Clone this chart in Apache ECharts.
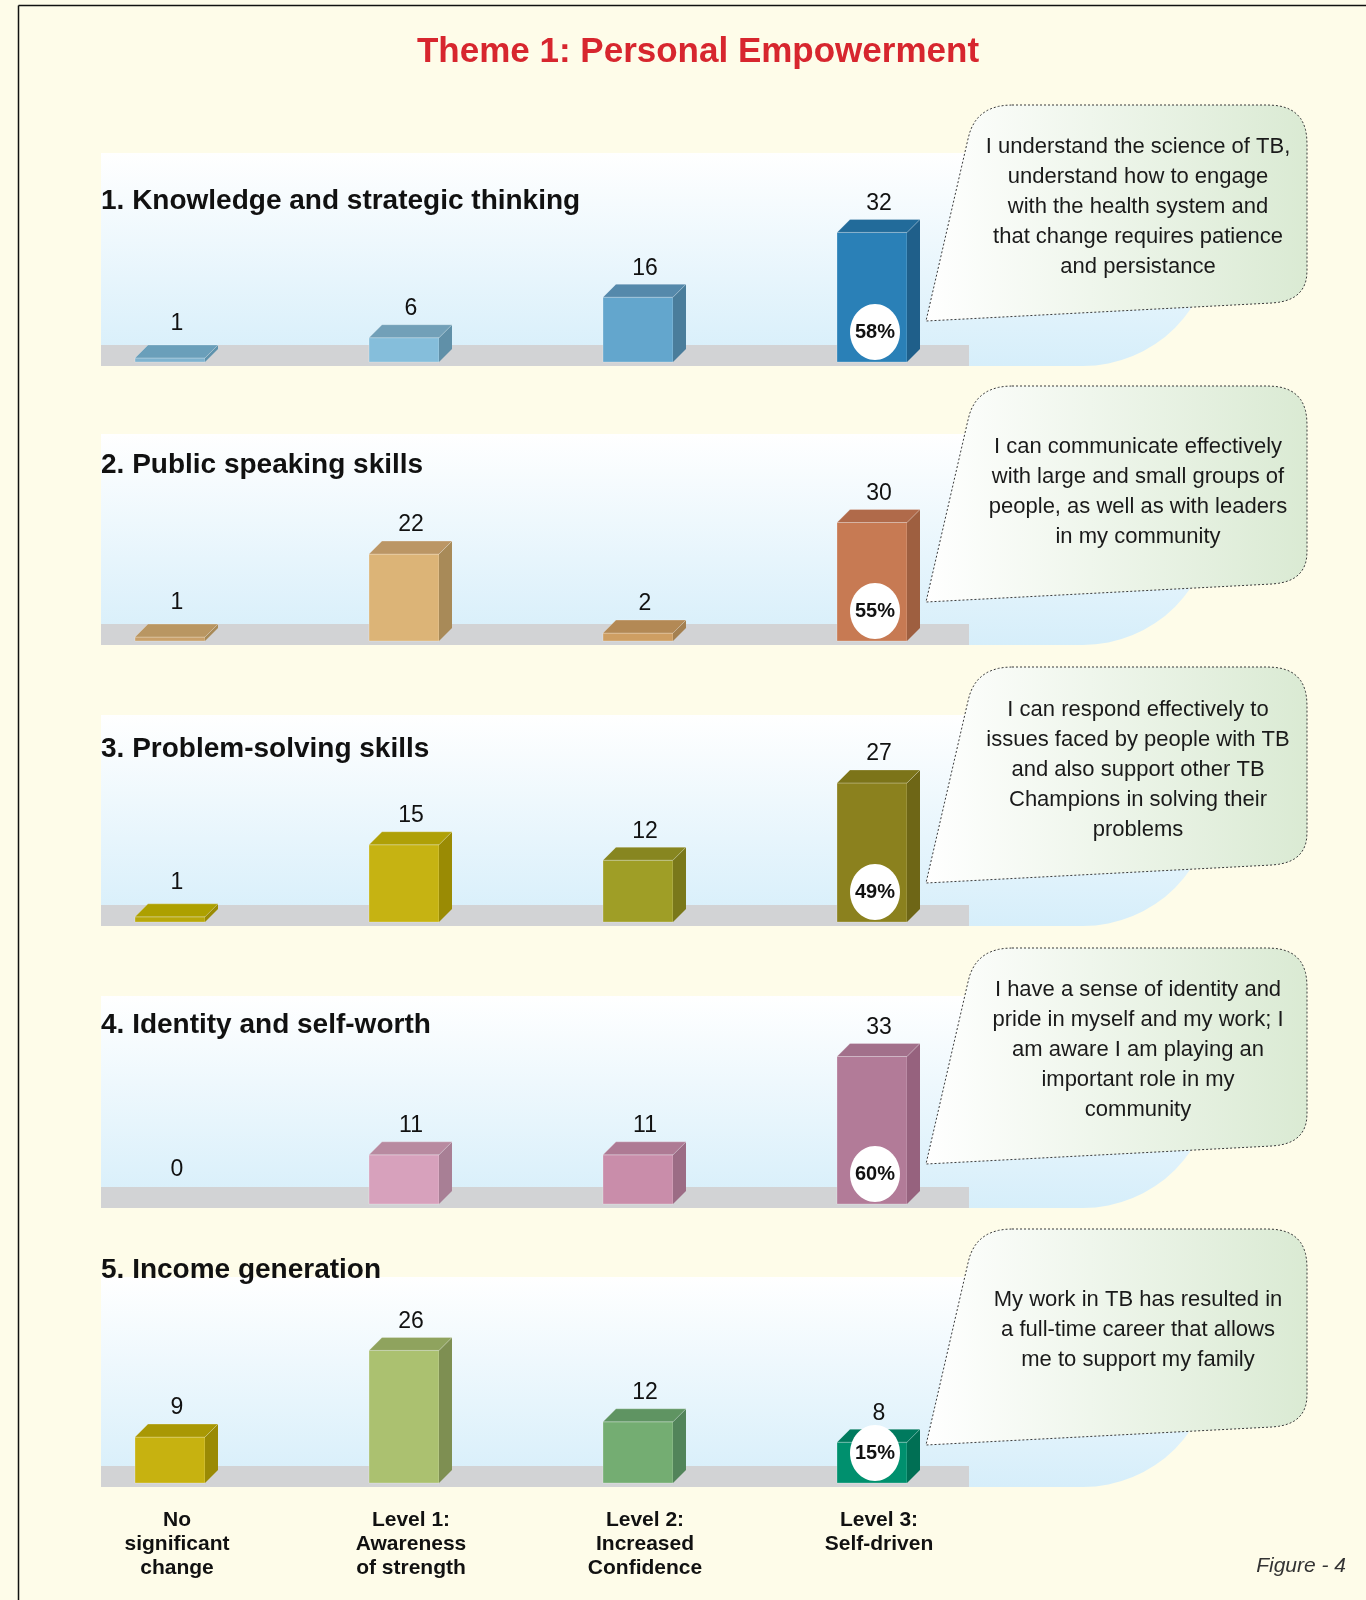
<!DOCTYPE html>
<html>
<head>
<meta charset="utf-8">
<script src="https://cdn.jsdelivr.net/npm/echarts@6/dist/echarts.min.js"></script>
<style>
html,body{margin:0;padding:0;background:#FEFCE9;}
#c{width:1366px;height:1600px;}
</style>
</head>
<body>
<div id="c"></div>
<script>
// ---------------- data ----------------
const chartTitle = 'Theme 1: Personal Empowerment';
const figureLabel = 'Figure - 4';
const categories = [
  'No\nsignificant\nchange',
  'Level 1:\nAwareness\nof strength',
  'Level 2:\nIncreased\nConfidence',
  'Level 3:\nSelf-driven'
];
const panelTitles = [
  '1. Knowledge and strategic thinking',
  '2. Public speaking skills',
  '3. Problem-solving skills',
  '4. Identity and self-worth',
  '5. Income generation'
];
const knowledgeValues      = [1, 6, 16, 32];
const publicSpeakingValues = [1, 22, 2, 30];
const problemSolvingValues = [1, 15, 12, 27];
const identityValues       = [0, 11, 11, 33];
const incomeValues         = [9, 26, 12, 8];
const level3Shares = ['58%', '55%', '49%', '60%', '15%'];
const quotes = [
  'I understand the science of TB,\nunderstand how to engage\nwith the health system and\nthat change requires patience\nand persistance',
  'I can communicate effectively\nwith large and small groups of\npeople, as well as with leaders\nin my community',
  'I can respond effectively to\nissues faced by people with TB\nand also support other TB\nChampions in solving their\nproblems',
  'I have a sense of identity and\npride in myself and my work; I\nam aware I am playing an\nimportant role in my\ncommunity',
  'My work in TB has resulted in\na full-time career that allows\nme to support my family'
];
const panelValues = [knowledgeValues, publicSpeakingValues, problemSolvingValues, identityValues, incomeValues];

// ---------------- styles / layout ----------------
const FONT = '"Liberation Sans", Arial, "Noto Sans", sans-serif';
// [front, side, top]
const barColors = [
  [['#7FB3CF','#5F93AD','#6A9FBA'], ['#85BEDB','#6090A8','#72A0B8'], ['#63A6CD','#4A7D9B','#5589AB'], ['#2A80B7','#1F5F8A','#226B9A']],
  [['#C9A06A','#A88A58','#B99662'], ['#DCB477','#A88A58','#BB9665'], ['#CE9E62','#A48050','#B38955'], ['#C77A53','#9E5F40','#B06A4A']],
  [['#B8A80A','#9A8B04','#ADA000'], ['#C6B312','#9A8B04','#AFA006'], ['#9F9E26','#7A781A','#878620'], ['#8B811E','#6E6616','#7C7419']],
  [['#D7A1BC','#A87F95','#B88AA0'], ['#D7A1BC','#A87F95','#B88AA0'], ['#C98DAA','#9C6C85','#AE7A94'], ['#B27B98','#96627E','#A2708B']],
  [['#C7B210','#9A8A04','#A99804'], ['#ABC170','#7E8F52','#8FA35E'], ['#74AD72','#52845A','#5F9462'], ['#00906E','#006F54','#007A5E']]
];
const panelTop = [153, 434, 715, 996, 1277];
const panelBase = [362, 641, 922, 1204, 1483];
const pxPerUnit = [4.05, 3.95, 5.15, 4.47, 5.1];
const titleMidY = [201, 465, 749, 1025, 1270];
const quoteMidOffset = [54, 58, 55, 54, 53];
const Y_MAX = 40;
const GRID_LEFT = 53, GRID_WIDTH = 936;
const BAR_W = 70, DX = 13, DY = 13;

const grids = [], xAxes = [], yAxes = [], series = [], graphics = [];

function quad(p0, c, p1, n) {
  const pts = [];
  for (let k = 1; k <= n; k++) {
    const t = k / n, u = 1 - t;
    pts.push([u*u*p0[0] + 2*u*t*c[0] + t*t*p1[0], u*u*p0[1] + 2*u*t*c[1] + t*t*p1[1]]);
  }
  return pts;
}
function bubblePoints(T) {
  let pts = [[1012, T-48], [1268, T-48]];
  pts = pts.concat(quad([1268, T-48], [1307, T-48], [1307, T-10], 10));
  pts.push([1307, T+118]);
  pts = pts.concat(quad([1307, T+118], [1307, T+148], [1272, T+150], 10));
  pts.push([926, T+168]);
  pts.push([968, T-14]);
  pts = pts.concat(quad([968, T-14], [975, T-48], [1012, T-48], 10));
  return pts;
}

// page border + title
graphics.push({type:'line', z:1, shape:{x1:18.5, y1:5.5, x2:1366, y2:5.5}, style:{stroke:'#111', lineWidth:1.5}});
graphics.push({type:'line', z:1, shape:{x1:18.5, y1:5.5, x2:18.5, y2:1600}, style:{stroke:'#111', lineWidth:1.5}});
graphics.push({type:'text', z:6, x:698, y:52, style:{text:chartTitle, font:'bold 35px ' + FONT, fill:'#D7262E', align:'center', verticalAlign:'middle', textAlign:'center', textVerticalAlign:'middle'}});
graphics.push({type:'text', z:6, x:1346, y:1566, style:{text:figureLabel, font:'italic 21px ' + FONT, fill:'#333', align:'right', verticalAlign:'middle', textAlign:'right', textVerticalAlign:'middle'}});

panelValues.forEach(function (vals, p) {
  const T = panelTop[p], B = panelBase[p];
  const h = Y_MAX * pxPerUnit[p];
  grids.push({left: GRID_LEFT, width: GRID_WIDTH, top: B - h, height: h, containLabel: false});
  xAxes.push({
    type:'category', gridIndex:p, data:categories,
    axisLine:{show:false}, axisTick:{show:false}, splitLine:{show:false},
    axisLabel: p === 4 ? {show:true, interval:0, margin:25, padding:[0,0,0,14], fontFamily:FONT, fontWeight:'bold', fontSize:21, lineHeight:24, color:'#111', align:'center'} : {show:false}
  });
  yAxes.push({type:'value', gridIndex:p, min:0, max:Y_MAX, show:false, splitLine:{show:false}});

  // panel background
  graphics.push({type:'rect', z:-5, shape:{x:101, y:T, width:1112, height:B + 4 - T, r:[0,0,130,0]},
    style:{fill:new echarts.graphic.LinearGradient(0,0,0,1,[{offset:0,color:'#FFFFFF'},{offset:1,color:'#D6EEFA'}])}});
  graphics.push({type:'rect', z:-4, shape:{x:101, y:B - 17, width:868, height:21}, style:{fill:'#D2D3D5'}});
  graphics.push({type:'text', z:6, x:101, y:titleMidY[p], style:{text:panelTitles[p], font:'bold 28px ' + FONT, fill:'#111', align:'left', verticalAlign:'middle', textAlign:'left', textVerticalAlign:'middle'}});

  // speech bubble
  graphics.push({type:'polygon', z:5, shape:{points:bubblePoints(T)},
    style:{fill:new echarts.graphic.LinearGradient(0,0,1,0,[{offset:0,color:'#FFFFFF'},{offset:1,color:'#DAEAD3'}]),
      stroke:'#3a3a3a', lineWidth:1, lineDash:[2,2]}});
  graphics.push({type:'text', z:6, x:1138, y:T + quoteMidOffset[p], style:{text:quotes[p], font:'22px ' + FONT, lineHeight:30, fill:'#1a1a1a', align:'center', verticalAlign:'middle', textAlign:'center', textVerticalAlign:'middle'}});

  series.push({
    type:'custom', xAxisIndex:p, yAxisIndex:p, animation:false,
    data: vals.map(function (v, i) { return [i, v]; }),
    encode:{x:0, y:1},
    renderItem: function (params, api) {
      const i = api.value(0), v = api.value(1);
      const b = api.coord([i, 0]), t = api.coord([i, v]);
      const cx = b[0], yb = b[1], yt = t[1];
      const x0 = cx - BAR_W / 2, x1 = cx + BAR_W / 2;
      const c = barColors[p][i];
      const children = [];
      if (v > 0) {
        children.push({type:'rect', shape:{x:x0, y:yt, width:BAR_W, height:yb - yt}, style:{fill:c[0], stroke:'rgba(255,255,255,0.25)', lineWidth:1}});
        children.push({type:'polygon', shape:{points:[[x1,yt],[x1+DX,yt-DY],[x1+DX,yb-DY],[x1,yb]]}, style:{fill:c[1]}});
        children.push({type:'polygon', shape:{points:[[x0,yt],[x0+DX,yt-DY],[x1+DX,yt-DY],[x1,yt]]}, style:{fill:c[2], stroke:'rgba(255,255,255,0.25)', lineWidth:1}});
      }
      children.push({type:'text', x:cx + 7, y:yt - 29 - (v <= 1 ? 5 : 0), style:{text:String(v), font:'23px ' + FONT, fill:'#111', align:'center', verticalAlign:'middle', textAlign:'center', textVerticalAlign:'middle'}});
      if (i === 3) {
        children.push({type:'ellipse', shape:{cx:cx + 3, cy:yb - 30, rx:25, ry:28}, style:{fill:'#FFFFFF'}});
        children.push({type:'text', x:cx + 3, y:yb - 30, style:{text:level3Shares[p], font:'bold 20px ' + FONT, fill:'#111', align:'center', verticalAlign:'middle', textAlign:'center', textVerticalAlign:'middle'}});
      }
      return {type:'group', children:children};
    }
  });
});

const chart = echarts.init(document.getElementById('c'), null, {renderer:'canvas'});
chart.setOption({
  backgroundColor:'#FEFCE9',
  animation:false,
  grid:grids, xAxis:xAxes, yAxis:yAxes, series:series,
  graphic:{elements:graphics}
});
</script>
</body>
</html>
